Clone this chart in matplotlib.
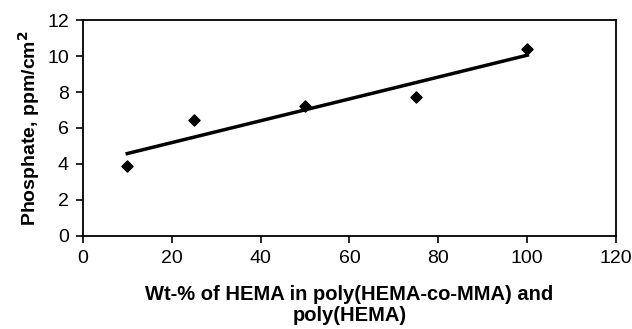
import numpy as np
import matplotlib
matplotlib.use('Agg')
import matplotlib.pyplot as plt

plt.rcParams['font.family'] = ['Liberation Sans', 'DejaVu Sans']

# Data
wt_hema = [10, 25, 50, 75, 100]
phosphate = [3.9, 6.45, 7.2, 7.7, 10.4]

# Linear trend line
slope, intercept = np.polyfit(wt_hema, phosphate, 1)
x_fit = np.array([min(wt_hema), max(wt_hema)])
y_fit = slope * x_fit + intercept

fig = plt.figure(figsize=(6.32, 3.29), dpi=100)
ax = fig.add_axes([0.131, 0.283, 0.844, 0.656])

ax.plot(x_fit, y_fit, color='black', linewidth=2.5)
ax.scatter(wt_hema, phosphate, marker='D', s=32, color='black', zorder=3)

ax.set_xlim(0, 120)
ax.set_ylim(0, 12)
ax.set_xticks(range(0, 121, 20))
ax.set_yticks(range(0, 13, 2))
ax.tick_params(direction='out', length=5, width=1.2, labelsize=14, pad=5)
for s in ax.spines.values():
    s.set_linewidth(1.3)

ax.set_xlabel('Wt-% of HEMA in poly(HEMA-co-MMA) and\npoly(HEMA)',
              fontsize=14.5, fontweight='bold', labelpad=13, linespacing=1.12)
ax.set_ylabel('Phosphate, ppm/cm$^\\mathbf{2}$', fontsize=14, fontweight='bold',
              labelpad=4)

fig.savefig('out.png', dpi=100)
